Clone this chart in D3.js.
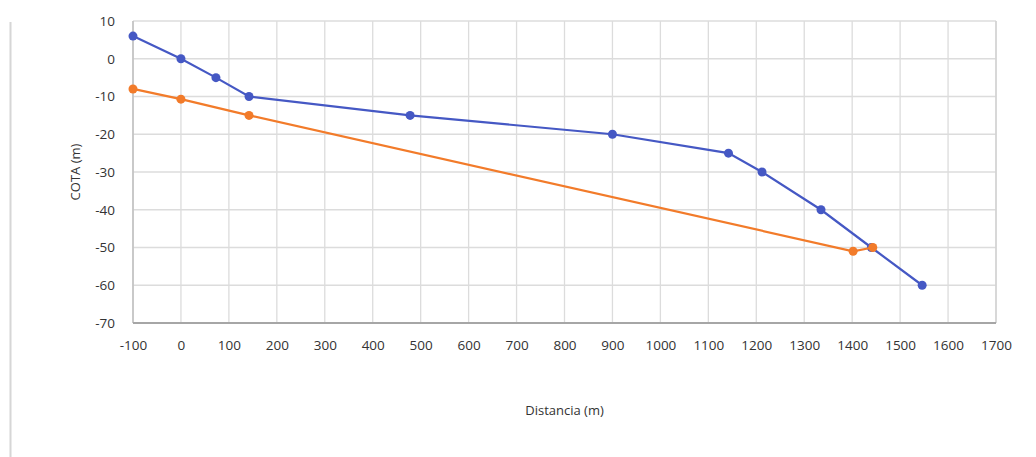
<!DOCTYPE html>
<html>
<head>
<meta charset="utf-8">
<script src="https://cdn.jsdelivr.net/npm/d3@7"></script>
<style>
  body { margin: 0; background: #fff; }
  text { font-family: "Open Sans", "Liberation Sans", sans-serif; }
</style>
</head>
<body>
<svg id="chart"></svg>
<script>
// terreno (azul)
const terrenoX = [-100, 0, 73, 142, 478, 900, 1142, 1212, 1335, 1440, 1546];
const terrenoY = [6, 0, -5, -10, -15, -20, -25, -30, -40, -50, -60];
// rasante (naranja)
const rasanteX = [-100, 0, 142, 1402, 1443];
const rasanteY = [-8, -10.7, -15, -51, -50];

const xTicks = d3.range(-100, 1701, 100);
const yTicks = d3.range(-70, 11, 10);

const W = 1036, H = 457;
const margin = {top: 21, right: 40, bottom: 134, left: 133};
const w = W - margin.left - margin.right,
  h = H - margin.top - margin.bottom;

let svg = d3.select('#chart').attr('width', W).attr('height', H);

// marco izquierdo de la imagen
svg.append('line')
  .attr('x1', 10.5).attr('x2', 10.5).attr('y1', 22).attr('y2', H)
  .attr('stroke', '#d6d6d6').attr('stroke-width', 2);

let g = svg.append('g').attr('transform', 'translate(' + margin.left + ',' + margin.top + ')');

let x = d3.scaleLinear().domain([-100, 1700]).range([0, w]);
let y = d3.scaleLinear().domain([-70, 10]).range([h, 0]);

// grid
g.append('g').selectAll('line').data(xTicks).enter().append('line')
  .attr('x1', d => x(d)).attr('x2', d => x(d))
  .attr('y1', 0).attr('y2', h)
  .attr('stroke', '#dcdcdc').attr('stroke-width', 1.3);
g.append('g').selectAll('line').data(yTicks).enter().append('line')
  .attr('x1', 0).attr('x2', w)
  .attr('y1', d => y(d)).attr('y2', d => y(d))
  .attr('stroke', '#dcdcdc').attr('stroke-width', 1.3);

// ejes
g.append('line').attr('x1', 0).attr('x2', 0).attr('y1', 0).attr('y2', h)
  .attr('stroke', '#bfbfbf').attr('stroke-width', 1.5);
g.append('line').attr('x1', w).attr('x2', w).attr('y1', 0).attr('y2', h)
  .attr('stroke', '#cfcfcf').attr('stroke-width', 1.3);
g.append('line').attr('x1', 0).attr('x2', w).attr('y1', h).attr('y2', h)
  .attr('stroke', '#a6a6a6').attr('stroke-width', 2);

const fmt = d => String(d);
let xAxis = g.append('g').attr('transform', 'translate(0,' + h + ')')
  .call(d3.axisBottom(x).tickValues(xTicks).tickFormat(fmt).tickSize(0).tickPadding(17));
let yAxis = g.append('g')
  .call(d3.axisLeft(y).tickValues(yTicks).tickFormat(fmt).tickSize(0).tickPadding(18));
[xAxis, yAxis].forEach(a => {
  a.select('.domain').remove();
  a.selectAll('text').attr('fill', '#333').style('font-size', '13.5px');
});

// titulos
svg.append('text')
  .attr('x', margin.left + w / 2).attr('y', 415)
  .attr('text-anchor', 'middle').attr('fill', '#333')
  .style('font-size', '13px').text('Distancia (m)');
svg.append('text')
  .attr('transform', 'translate(80,' + (margin.top + h / 2) + ') rotate(-90)')
  .attr('text-anchor', 'middle').attr('fill', '#333')
  .style('font-size', '13px').text('COTA (m)');

// series
const series = [
  {xs: terrenoX, ys: terrenoY, color: '#4558c4'},
  {xs: rasanteX, ys: rasanteY, color: '#f27b2a'}
];

let line = d3.line().x(d => x(d[0])).y(d => y(d[1]));

series.forEach(s => {
  let pts = s.xs.map((v, i) => [v, s.ys[i]]);
  g.append('path').datum(pts)
    .attr('d', line)
    .attr('fill', 'none')
    .attr('stroke', s.color)
    .attr('stroke-width', 2.2);
  g.append('g').selectAll('circle').data(pts).enter().append('circle')
    .attr('cx', d => x(d[0]))
    .attr('cy', d => y(d[1]))
    .attr('r', 4.5)
    .attr('fill', s.color);
});
</script>
</body>
</html>
